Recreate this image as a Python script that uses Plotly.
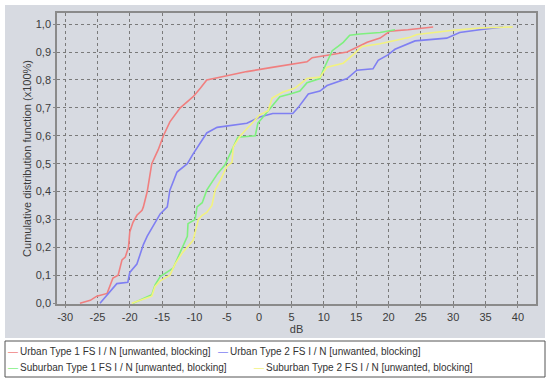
import plotly.graph_objects as go

# ---------------- data ----------------
urban1_x = [-27.7, -26.1, -25.1, -23.5, -22.6, -21.8, -21.2, -20.7, -20.2, -20.0, -19.5, -18.9,
            -18.1, -17.9, -17.3, -16.9, -16.6, -16.1, -15.6, -14.8, -13.8, -12.2, -10.7, -10.2,
            -9.1, -8.1, -5.0, -1.9, 2.0, 7.4, 8.2, 13.6, 16.7, 18.7, 19.9, 20.2, 23.0, 26.9]
urban1_y = [0.0, 0.01, 0.025, 0.035, 0.09, 0.10, 0.155, 0.165, 0.20, 0.255, 0.29, 0.315,
            0.333, 0.345, 0.40, 0.45, 0.50, 0.525, 0.55, 0.60, 0.65, 0.70, 0.73, 0.74,
            0.77, 0.80, 0.815, 0.83, 0.845, 0.865, 0.88, 0.90, 0.935, 0.95, 0.97, 0.975, 0.98, 0.99]

urban2_x = [-24.6, -22.0, -20.3, -20.0, -18.9, -17.9, -17.3, -15.3, -14.2, -13.8, -12.7, -11.1,
            -10.2, -8.1, -6.5, -1.9, 0.1, 2.1, 5.2, 6.0, 7.6, 9.4, 10.5, 13.6, 15.1, 17.6,
            18.4, 19.9, 21.0, 24.1, 29.0, 31.0, 34.1, 37.7]
urban2_y = [0.0, 0.07, 0.075, 0.11, 0.14, 0.21, 0.24, 0.32, 0.345, 0.405, 0.47, 0.50,
            0.535, 0.61, 0.63, 0.645, 0.667, 0.68, 0.68, 0.70, 0.75, 0.76, 0.78, 0.805, 0.835, 0.84,
            0.87, 0.89, 0.91, 0.94, 0.95, 0.97, 0.98, 0.99]

suburban1_x = [-19.5, -17.6, -16.6, -16.1, -15.3, -13.3, -12.2, -11.1, -11.0, -9.9, -9.6, -8.8,
               -8.1, -7.3, -6.4, -5.3, -4.2, -3.3, -0.6, -0.2, 0.6, 3.2, 4.8, 6.3, 7.4, 9.4,
               9.9, 10.5, 11.3, 12.2, 13.0, 14.0, 15.6, 18.7, 21.0]
suburban1_y = [0.0, 0.02, 0.03, 0.065, 0.095, 0.125, 0.18, 0.24, 0.285, 0.30, 0.345, 0.36,
               0.405, 0.435, 0.465, 0.495, 0.55, 0.595, 0.60, 0.645, 0.667, 0.74, 0.75, 0.76, 0.79, 0.805,
               0.835, 0.865, 0.905, 0.92, 0.935, 0.96, 0.965, 0.97, 0.98]

suburban2_x = [-19.7, -17.9, -16.6, -16.1, -15.3, -13.8, -13.0, -11.9, -11.1, -10.2, -9.4, -8.8,
               -8.1, -7.3, -6.8, -6.0, -5.0, -4.2, -4.0, -2.9, -1.1, 0.1, 1.4, 2.0, 3.7, 5.5,
               7.4, 9.4, 10.5, 13.0, 14.5, 15.9, 18.7, 23.3, 24.4, 30.0, 34.1, 39.2]
suburban2_y = [0.0, 0.015, 0.025, 0.06, 0.08, 0.10, 0.14, 0.18, 0.20, 0.225, 0.30, 0.315,
               0.325, 0.35, 0.405, 0.44, 0.49, 0.505, 0.56, 0.60, 0.645, 0.675, 0.69, 0.735, 0.757, 0.77,
               0.805, 0.81, 0.846, 0.86, 0.89, 0.92, 0.93, 0.953, 0.963, 0.978, 0.986, 0.99]

series_names = ["Urban Type 1 FS I / N [unwanted, blocking]",
                "Urban Type 2 FS I / N [unwanted, blocking]",
                "Suburban Type 1 FS I / N [unwanted, blocking]",
                "Suburban Type 2 FS I / N [unwanted, blocking]"]
series_colors = ["#f07f7f", "#7f7ff2", "#7ff07f", "#f2f27f"]

x_ticks = [-30, -25, -20, -15, -10, -5, 0, 5, 10, 15, 20, 25, 30, 35, 40]
x_ticklabels = ["-30", "-25", "-20", "-15", "-10", "-5", "0", "5", "10", "15", "20", "25", "30", "35", "40"]
y_ticks = [0.0, 0.1, 0.2, 0.3, 0.4, 0.5, 0.6, 0.7, 0.8, 0.9, 1.0]
y_ticklabels = ["0,0", "0,1", "0,2", "0,3", "0,4", "0,5", "0,6", "0,7", "0,8", "0,9", "1,0"]

# ---------------- figure ----------------
FONT = "Liberation Sans"
BG = "#d7dae1"

fig = go.Figure()
for xs, ys, name, col in zip([urban1_x, urban2_x, suburban1_x, suburban2_x],
                             [urban1_y, urban2_y, suburban1_y, suburban2_y],
                             series_names, series_colors):
    fig.add_trace(go.Scatter(x=xs, y=ys, mode="lines", name=name,
                             line=dict(color=col, width=1.6), showlegend=False))

# plot area: px x 57..536, y 13..304
L, R, T, B = 57, 14, 13, 79
W, H = 550 - L - R, 383 - T - B

def px(xp):
    return (xp - L) / W

def py(yp):
    return (383 - B - yp) / H

shapes = [
    # outer gray panel
    dict(type="rect", xref="paper", yref="paper", x0=px(5), x1=px(545), y0=py(338), y1=py(5),
         fillcolor=BG, line=dict(width=0), layer="below"),
    # legend box
    dict(type="rect", xref="paper", yref="paper", x0=px(5), x1=px(545), y0=py(377), y1=py(341),
         fillcolor="white", line=dict(color="#555555", width=1), layer="below"),
]

legend_pos = [(7, 351), (217, 351), (7, 367), (253, 367)]
annotations = []
for (lx, ly), name, col in zip(legend_pos, series_names, series_colors):
    annotations.append(dict(
        xref="paper", yref="paper", x=px(lx), y=py(ly), xanchor="left", yanchor="middle",
        showarrow=False, borderpad=0,
        text=f'<span style="color:{col}">\u2014</span>\u2009{name}',
        font=dict(family=FONT, size=10, color="#333333")))

axis_common = dict(ticks="outside", ticklen=2, tickcolor="#888888", showline=True, mirror=True,
                   linecolor="#8a8a8a", linewidth=1.5, showgrid=True, gridcolor="#7a7a7a",
                   griddash="dot", gridwidth=1, zeroline=False, automargin=False,
                   tickfont=dict(size=11, color="#3c3c3c"))

fig.update_layout(
    width=550, height=383,
    margin=dict(l=L, r=R, t=T, b=B, autoexpand=False),
    paper_bgcolor="white",
    plot_bgcolor=BG,
    shapes=shapes,
    annotations=annotations,
    font=dict(family=FONT, size=11, color="#3c3c3c"),
    xaxis=dict(range=[-31.25, 42.8], tickvals=x_ticks, ticktext=x_ticklabels,
               title=dict(text="dB", standoff=2, font=dict(size=11)), **axis_common),
    yaxis=dict(range=[-0.003, 1.04], tickvals=y_ticks, ticktext=y_ticklabels,
               title=dict(text="Cumulative distribution function (x100%)", standoff=2,
                          font=dict(size=11)), **axis_common),
)

fig.write_html("out.html", config={"displayModeBar": False},
               post_script="document.body.style.margin='0px';document.body.style.overflow='hidden';")
